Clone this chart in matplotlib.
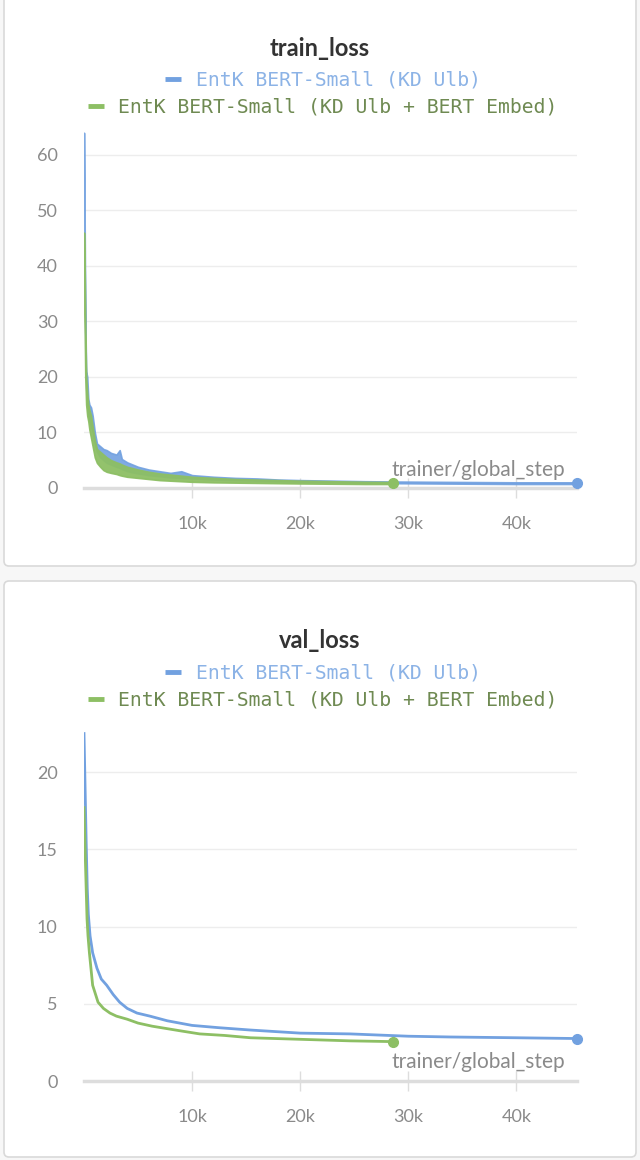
import matplotlib
matplotlib.use("Agg")
import matplotlib.pyplot as plt
from matplotlib.patches import FancyBboxPatch
from matplotlib.ticker import FuncFormatter

# --- data ------------------------------------------------------------------
series_names = ["EntK BERT-Small (KD Ulb)", "EntK BERT-Small (KD Ulb + BERT Embed)"]

# train_loss: noisy, so keep a lower/upper envelope per run
train_steps_blue = [0, 60, 120, 200, 300, 400, 500, 650, 800, 1000, 1200, 1500, 1800,
                    2100, 2500, 3000, 3300, 3500, 4000, 5000, 6000, 7000, 8000, 9000,
                    10000, 12000, 14000, 16000, 18000, 20000, 23000, 26000, 28600,
                    32000, 36000, 40000, 45600]
train_blue_hi = [64, 48, 30, 21, 20, 16, 15, 14.5, 13, 10, 8, 7.5, 7, 6.8, 6.3, 6.0, 6.8,
                 5.2, 4.6, 3.8, 3.3, 3.0, 2.7, 3.0, 2.3, 2.0, 1.8, 1.7, 1.5, 1.4, 1.3,
                 1.2, 1.15, 1.1, 1.05, 1.0, 1.0]
train_blue_lo = [55, 40, 25, 18, 15, 13, 12, 11, 10, 8, 6.5, 5.5, 5, 4.5, 4.2, 3.8, 3.6,
                 3.4, 3.0, 2.6, 2.3, 2.1, 1.9, 1.8, 1.7, 1.5, 1.4, 1.3, 1.2, 1.1, 1.0,
                 0.9, 0.85, 0.8, 0.75, 0.7, 0.7]

train_steps_green = train_steps_blue[:33]
train_green_hi = [46, 40, 28, 20, 17, 15, 14, 13, 11, 8.5, 7, 6.5, 6, 5.5, 5, 4.6, 4.4,
                  4.2, 3.8, 3.3, 2.9, 2.6, 2.4, 2.2, 2.0, 1.8, 1.6, 1.5, 1.4, 1.3, 1.2,
                  1.1, 1.05]
train_green_lo = [40, 30, 20, 15, 13, 12, 10.5, 9, 7.5, 5.5, 4.5, 3.8, 3.2, 2.9, 2.7, 2.5,
                  2.3, 2.2, 2.0, 1.8, 1.6, 1.4, 1.3, 1.2, 1.1, 1.0, 0.95, 0.9, 0.85, 0.8,
                  0.75, 0.7, 0.7]

# val_loss
val_steps_blue = [0, 100, 200, 300, 400, 560, 800, 1200, 1600, 2100, 2700, 3300, 4000,
                  4900, 6100, 7700, 10000, 12500, 15400, 20000, 24600, 30000, 33900,
                  40000, 45600]
val_blue = [22.5, 19, 15.5, 12.5, 10.8, 9.4, 8.3, 7.3, 6.6, 6.2, 5.6, 5.1, 4.7, 4.4, 4.2,
            3.9, 3.6, 3.45, 3.3, 3.1, 3.05, 2.9, 2.85, 2.8, 2.75]
val_steps_green = [0, 100, 200, 280, 370, 500, 800, 1300, 1800, 2400, 3000, 4000, 5000,
                   6300, 8900, 10700, 13000, 15400, 20000, 24600, 28600]
val_green = [17.7, 15, 12.5, 10.5, 9.4, 8.3, 6.2, 5.1, 4.7, 4.4, 4.2, 4.0, 3.75, 3.55,
             3.25, 3.05, 2.95, 2.8, 2.7, 2.6, 2.55]

x_ticks = [10000, 20000, 30000, 40000]
train_yticks = [0, 10, 20, 30, 40, 50, 60]
val_yticks = [0, 5, 10, 15, 20]

# --- style ------------------------------------------------------------------
BLUE = "#72a1e0"
GREEN = "#8dbf64"
BLUE_TXT = "#8cb3e6"
GREEN_TXT = "#6f8a52"
TICK = "#8a8a8a"
GRID = "#ededed"
AXLINE = "#dddddd"
LEG_SIZE = 14.2

W, H = 640, 1160
fig = plt.figure(figsize=(W / 100, H / 100), dpi=100)
fig.patch.set_facecolor("#f7f7f7")

# background layer in pixel coords for the two cards
bg = fig.add_axes([0, 0, 1, 1], zorder=0)
bg.set_xlim(0, W)
bg.set_ylim(H, 0)
bg.axis("off")
for top, bottom in [(-10, 566), (581, 1157)]:
    bg.add_patch(FancyBboxPatch((4, top), 632, bottom - top,
                                boxstyle="round,pad=0,rounding_size=5",
                                fc="white", ec="#d9d9d9", lw=1.2))


def px_axes(left, top, right, bottom):
    return fig.add_axes([left / W, 1 - bottom / H, (right - left) / W, (bottom - top) / H],
                        zorder=2)


def kfmt(v, _):
    return f"{int(v / 1000)}k"


def style_axes(ax, yticks, ylim):
    ax.set_facecolor("none")
    ax.set_xlim(0, 45600)
    ax.set_ylim(*ylim)
    ax.set_xticks(x_ticks)
    ax.xaxis.set_major_formatter(FuncFormatter(kfmt))
    ax.set_yticks(yticks)
    for s in ["top", "right", "left"]:
        ax.spines[s].set_visible(False)
    ax.spines["bottom"].set_color(AXLINE)
    ax.spines["bottom"].set_linewidth(2.5)
    ax.spines["bottom"].set_position(("data", 0))
    ax.tick_params(axis="x", direction="inout", length=14, width=1, color=AXLINE,
                   pad=13, labelsize=13, labelcolor=TICK)
    ax.tick_params(axis="y", length=0, pad=19, labelsize=13, labelcolor=TICK)
    for lab in ax.get_xticklabels() + ax.get_yticklabels():
        lab.set_fontfamily("Lato")
    for t in yticks[1:]:
        ax.axhline(t, color=GRID, lw=1, zorder=0)
    ax.text(0.975, 0.025, "trainer/global_step", transform=ax.transAxes, ha="right",
            va="bottom", fontsize=15, color=TICK, family="Lato")


def header(title, y_title, y_leg1, y_leg2):
    fig.text(0.5, 1 - y_title / H, title, ha="center", va="center", fontsize=17,
             fontweight="bold", family="Lato", color="#333333")
    for y, name, col, tcol in [(y_leg1, series_names[0], BLUE, BLUE_TXT),
                               (y_leg2, series_names[1], GREEN, GREEN_TXT)]:
        fig.text(338 / W, 1 - y / H, name, ha="center", va="center",
                 fontsize=LEG_SIZE, family="DejaVu Sans Mono", color=tcol)
        half = len(name) * 0.6 * LEG_SIZE * 100 / 72 / 2
        x0 = 338 - half - 31
        bg.plot([x0, x0 + 16], [y - 1, y - 1], color=col, lw=3.5, solid_capstyle="butt")


# --- train_loss -------------------------------------------------------------
header("train_loss", 48, 80, 107)
ax1 = px_axes(84, 130, 577, 489)
style_axes(ax1, train_yticks, (-0.2, 64.5))
ax1.fill_between(train_steps_blue, train_blue_lo, train_blue_hi, color=BLUE, lw=1.2,
                 alpha=0.9, zorder=3)
ax1.fill_between(train_steps_green, train_green_lo, train_green_hi, color=GREEN, lw=1.2,
                 alpha=0.95, zorder=4)
ax1.plot(train_steps_blue[-1], (train_blue_lo[-1] + train_blue_hi[-1]) / 2, "o",
         color=BLUE, ms=7, zorder=5, clip_on=False)
ax1.plot(train_steps_green[-1], (train_green_lo[-1] + train_green_hi[-1]) / 2, "o",
         color=GREEN, ms=7, zorder=5, clip_on=False)

# --- val_loss ---------------------------------------------------------------
header("val_loss", 641, 673, 700)
ax2 = px_axes(84, 732, 577, 1081)
style_axes(ax2, val_yticks, (0, 22.6))
ax2.plot(val_steps_blue, val_blue, color=BLUE, lw=2, zorder=3)
ax2.plot(val_steps_green, val_green, color=GREEN, lw=2, zorder=4)
ax2.plot(val_steps_blue[-1], val_blue[-1], "o", color=BLUE, ms=7, zorder=5, clip_on=False)
ax2.plot(val_steps_green[-1], val_green[-1], "o", color=GREEN, ms=7, zorder=5,
         clip_on=False)

fig.savefig("out.png", dpi=100, facecolor=fig.get_facecolor())
